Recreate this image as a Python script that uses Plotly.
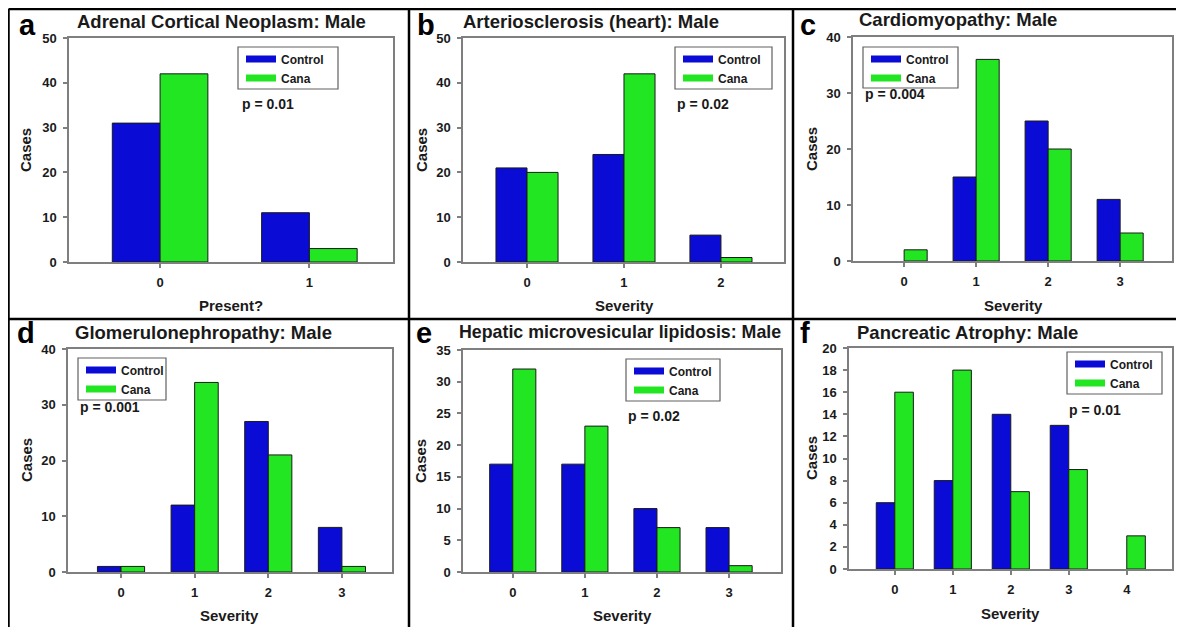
import plotly.graph_objects as go

# ---------------- data ----------------
titles = ["Adrenal Cortical Neoplasm: Male", "Arteriosclerosis (heart): Male", "Cardiomyopathy: Male",
          "Glomerulonephropathy: Male", "Hepatic microvesicular lipidosis: Male", "Pancreatic Atrophy: Male"]
panel_letters = ["a", "b", "c", "d", "e", "f"]
x_titles = ["Present?", "Severity", "Severity", "Severity", "Severity", "Severity"]
y_title = "Cases"
p_values = ["p = 0.01", "p = 0.02", "p = 0.004", "p = 0.001", "p = 0.02", "p = 0.01"]
series_names = ["Control", "Cana"]

cats_a = [0, 1]
control_a = [31, 11]
cana_a = [42, 3]

cats_b = [0, 1, 2]
control_b = [21, 24, 6]
cana_b = [20, 42, 1]

cats_c = [0, 1, 2, 3]
control_c = [0, 15, 25, 11]
cana_c = [2, 36, 20, 5]

cats_d = [0, 1, 2, 3]
control_d = [1, 12, 27, 8]
cana_d = [1, 34, 21, 1]

cats_e = [0, 1, 2, 3]
control_e = [17, 17, 10, 7]
cana_e = [32, 23, 7, 1]

cats_f = [0, 1, 2, 3, 4]
control_f = [6, 8, 14, 13, 0]
cana_f = [16, 18, 7, 9, 3]

y_max = [50, 50, 40, 40, 35, 20]
y_dtick = [10, 10, 10, 10, 5, 2]

panels = [
    (cats_a, control_a, cana_a),
    (cats_b, control_b, cana_b),
    (cats_c, control_c, cana_c),
    (cats_d, control_d, cana_d),
    (cats_e, control_e, cana_e),
    (cats_f, control_f, cana_f),
]

# ---------------- layout (pixel geometry, in page pixels) ----------------
OFF = 8                      # page body margin
W, H = 1184 - OFF, 627 - OFF
FONT = "Arial, Liberation Sans, sans-serif"
BLUE = "#0b0bd6"
GREEN = "#22e622"
EDGE = "#1a1a1a"
GRAY = "#7f7f7f"
TXT = "#1a1a1a"

specs = [
    dict(dx=(69, 393), dy=(38, 262), xr=(-0.61, 1.56), letter=(17, 25), title=(75, 21.5), tsize=18.5,
         legend=(238, 47, 338, 89), p=(240, 104), yt=(26, 150), xt=(231, 305)),
    dict(dx=(463, 784), dy=(38, 262), xr=(-0.66, 2.65), letter=(415, 25), title=(461, 21.5), tsize=18.5,
         legend=(675, 47, 772, 89), p=(675, 104), yt=(422, 150), xt=(624, 305)),
    dict(dx=(853, 1172), dy=(37, 261), xr=(-0.71, 3.72), letter=(798, 25), title=(857, 19.5), tsize=18.5,
         legend=(863, 47, 958, 88), p=(863, 94), yt=(811, 149), xt=(1013, 305)),
    dict(dx=(68, 392), dy=(349, 572), xr=(-0.72, 3.68), letter=(15, 333), title=(73, 332), tsize=18.5,
         legend=(78, 358, 166, 400), p=(78, 407), yt=(26, 460), xt=(230, 615)),
    dict(dx=(463, 781), dy=(350, 572), xr=(-0.69, 3.72), letter=(414, 333), title=(457, 332), tsize=17.8,
         legend=(626, 359, 720, 401), p=(626, 416), yt=(421, 461), xt=(622, 615)),
    dict(dx=(849, 1172), dy=(348, 569), xr=(-0.79, 4.78), letter=(798, 333), title=(855, 332), tsize=18.5,
         legend=(1067, 352, 1162, 394), p=(1067, 410), yt=(811, 458), xt=(1010, 613)),
]


def fx(px):
    return (px - OFF) / W


def fy(py):
    return 1 - (py - OFF) / H


fig = go.Figure()
annotations = []
shapes = []
layout_extra = {}

for i, ((cats, ctrl, cana), sp) in enumerate(zip(panels, specs)):
    n = "" if i == 0 else str(i + 1)
    xa, ya = "x" + n, "y" + n
    lg = "legend" + n

    for vals, col, off, nm in [(ctrl, BLUE, -0.32, series_names[0]), (cana, GREEN, 0.0, series_names[1])]:
        fig.add_trace(go.Bar(x=cats, y=vals, width=0.32, offset=off, name=nm,
                             marker=dict(color=col, line=dict(color=EDGE,
                                                              width=[1 if v else 0 for v in vals])),
                             showlegend=False, xaxis=xa, yaxis=ya))
    # legend swatches (wide rectangles like the original)
    for nm, col in zip(series_names, [BLUE, GREEN]):
        fig.add_trace(go.Scatter(x=[None], y=[None], mode="lines", name=nm,
                                 line=dict(color=col, width=7), legend=lg,
                                 xaxis=xa, yaxis=ya, hoverinfo="skip"))

    axis_common = dict(showline=True, mirror=True, linecolor=GRAY, linewidth=1.5,
                       ticks="outside", ticklen=4, tickcolor=GRAY, tickwidth=1.5,
                       ticklabelstandoff=4, automargin=False,
                       tickfont=dict(family=FONT, size=13, color=TXT, weight="bold"),
                       showgrid=False, zeroline=False, fixedrange=True)
    layout_extra["xaxis" + n] = dict(
        domain=[fx(sp["dx"][0]), fx(sp["dx"][1])], range=list(sp["xr"]), anchor=ya,
        tickmode="array", tickvals=cats, ticktext=[str(c) for c in cats], **axis_common)
    layout_extra["yaxis" + n] = dict(
        domain=[fy(sp["dy"][1]), fy(sp["dy"][0])], range=[0, y_max[i]], anchor=xa,
        dtick=y_dtick[i], tick0=0, **axis_common)

    lx0, ly0, lx1, ly1 = sp["legend"]
    # legend frame
    shapes.append(dict(type="rect", xref="paper", yref="paper", x0=fx(lx0), x1=fx(lx1),
                       y0=fy(ly1), y1=fy(ly0), line=dict(color="#606060", width=1.2),
                       fillcolor="white", layer="above"))
    layout_extra[lg] = dict(
        x=fx(lx0 + 3), y=fy(ly0 - 2.5), xanchor="left", yanchor="top",
        bgcolor="rgba(0,0,0,0)", borderwidth=0,
        font=dict(family=FONT, size=12, color=TXT, weight="bold"),
        tracegroupgap=0, itemwidth=30)

    new = [
        dict(text=panel_letters[i], x=fx(sp["letter"][0]), y=fy(sp["letter"][1]),
             xanchor="left", yanchor="middle",
             font=dict(family=FONT, size=29, color="#000", weight="bold")),
        dict(text=titles[i], x=fx(sp["title"][0]), y=fy(sp["title"][1]),
             xanchor="left", yanchor="middle",
             font=dict(family=FONT, size=sp["tsize"], color=TXT, weight="bold")),
        dict(text=p_values[i], x=fx(sp["p"][0]), y=fy(sp["p"][1]),
             xanchor="left", yanchor="middle",
             font=dict(family=FONT, size=14, color=TXT, weight="bold")),
        dict(text=y_title, x=fx(sp["yt"][0]), y=fy(sp["yt"][1]), textangle=-90,
             xanchor="center", yanchor="middle",
             font=dict(family=FONT, size=15, color=TXT, weight="bold")),
        dict(text=x_titles[i], x=fx(sp["xt"][0]), y=fy(sp["xt"][1]),
             xanchor="center", yanchor="middle",
             font=dict(family=FONT, size=15, color=TXT, weight="bold")),
    ]
    for a in new:
        a.update(xref="paper", yref="paper", showarrow=False)
    annotations += new

# panel frame lines
frame = dict(color="black", width=2.5)
shapes += [
    dict(type="line", xref="paper", yref="paper", x0=fx(8.5), x1=fx(8.5), y0=fy(9), y1=0, line=frame),
    dict(type="line", xref="paper", yref="paper", x0=fx(8.5), x1=1, y0=fy(9), y1=fy(9), line=frame),
    dict(type="line", xref="paper", yref="paper", x0=fx(409), x1=fx(409), y0=fy(9), y1=0, line=frame),
    dict(type="line", xref="paper", yref="paper", x0=fx(793), x1=fx(793), y0=fy(9), y1=0, line=frame),
    dict(type="line", xref="paper", yref="paper", x0=fx(8.5), x1=1, y0=fy(319), y1=fy(319), line=frame),
]

fig.update_layout(
    template="none",
    width=W, height=H, margin=dict(l=0, r=0, t=0, b=0, autoexpand=False),
    paper_bgcolor="white", plot_bgcolor="white",
    barmode="overlay", showlegend=True,
    annotations=annotations, shapes=shapes,
    font=dict(family=FONT, color=TXT),
    **layout_extra,
)

fig.write_html("out.html")
